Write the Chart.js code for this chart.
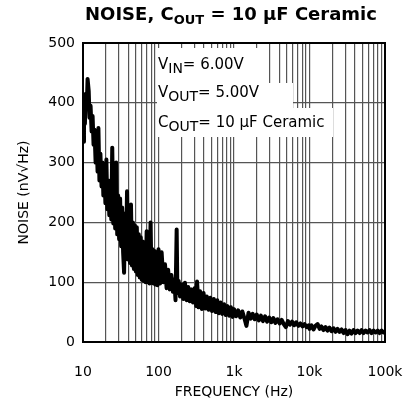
<!DOCTYPE html>
<html>
<head>
<meta charset="utf-8">
<script src="https://cdn.jsdelivr.net/npm/chart.js@4.4.1/dist/chart.umd.min.js"></script>
<style>
  html, body { margin: 0; padding: 0; background: #fff; }
</style>
</head>
<body>
<canvas id="noiseChart" width="409" height="409"></canvas>
<script>
// Frequenz (Hz) und Rauschen (nV/√Hz)
const freqHz = [
  10, 10.3, 10.6, 10.9, 11.2, 11.5, 11.9, 12.2, 12.6, 13,
  13.4, 13.8, 14.2, 14.7, 15.1, 15.6, 16, 16.5, 17, 17.6,
  18.1, 18.6, 19.2, 19.8, 20.4, 21, 21.7, 22.3, 23, 23.7,
  24.4, 25.2, 25.9, 26.7, 27.5, 28.4, 29.2, 30.1, 31, 32,
  33, 34, 35, 36.1, 37.2, 38.3, 39.5, 40.7, 41.9, 43.2,
  44.5, 45.8, 47.2, 48.7, 50.1, 51.6, 53.2, 54.8, 56.5, 58.2,
  60, 61.8, 63.7, 65.6, 67.6, 69.7, 71.8, 74, 76.2, 78.5,
  80.9, 83.4, 85.9, 88.5, 91.2, 94, 96.8,
  100, 105, 110, 116, 122, 128, 134, 141, 148, 155,
  162, 168, 174, 178, 185, 193, 203, 213, 224, 235,
  247, 259, 272, 286, 300, 316, 324, 340, 355, 375,
  395, 415, 436, 460, 485, 510, 540, 570, 600, 630,
  665, 700, 740, 780, 820, 865, 910, 960,
  1000, 1065, 1135, 1210, 1290, 1370, 1460, 1560, 1660, 1770,
  1880, 2000, 2130, 2270, 2420, 2580, 2750, 2930, 3120, 3320,
  3540, 3770, 4020, 4280, 4560, 4860, 5180, 5520, 5880, 6260,
  6670, 7110, 7570, 8070, 8600, 9160, 9760,
  10000, 10630, 11300, 12000, 12800, 13600, 14400, 15300, 16300, 17300,
  18400, 19600, 20800, 22100, 23500, 25000, 26600, 28300, 30000, 31900,
  33900, 36100, 38400, 40800, 43300, 46100, 49000, 52000, 55300, 58800,
  62500, 66400, 70600, 75100, 79800, 84800, 90200, 95900, 100000
];
const noiseNv = [
  335, 400, 365, 415, 390, 440, 420, 375, 395, 352,
  378, 330, 355, 300, 340, 285, 358, 270, 315, 260,
  300, 245, 290, 232, 305, 222, 270, 212, 260, 205,
  325, 198, 260, 190, 300, 180, 245, 172, 240, 160,
  225, 150, 116, 215, 145, 252, 138, 215, 132, 230,
  128, 200, 122, 195, 118, 192, 112, 180, 108, 175,
  104, 168, 102, 165, 100, 185, 100, 158, 98, 200,
  99, 155, 98, 152, 96, 150, 95,
  155, 98, 150, 100, 130, 90, 121, 88, 112, 84,
  105, 70, 188, 82, 102, 76, 96, 72, 99, 70,
  92, 68, 88, 66, 90, 60, 101, 58, 85, 55,
  82, 56, 76, 54, 74, 52, 72, 50, 70, 48,
  66, 47, 63, 45, 60, 44, 58, 42,
  55, 43, 53, 41, 51, 40, 27, 49, 39, 47,
  38, 46, 36, 44, 35, 43, 34, 41, 33, 40,
  32, 38, 31, 37, 30, 25, 35, 29, 34, 28,
  33, 27, 31, 26, 30, 25, 28,
  22, 28, 21, 27, 30, 22, 26, 20, 25, 19,
  24, 18, 23, 17, 22, 17, 21, 15, 20, 13,
  19, 14, 20, 15, 19, 15, 20, 15, 19, 16,
  20, 15, 19, 16, 19, 15, 19, 16, 18
];
const xTickLabels = { 10: '10', 100: '100', 1000: '1k', 10000: '10k', 100000: '100k' };
const yTicks = [0, 100, 200, 300, 400, 500];
const noteRows = [
  ['V', 'IN', '= 6.00V'],
  ['V', 'OUT', '= 5.00V'],
  ['C', 'OUT', '= 10 µF Ceramic']
];

const FONT = 'DejaVu Sans';

// Gitterlinien bei 1..9 je Dekade
const xGrid = [];
for (let e = 1; e <= 5; e++) {
  for (let m = 1; m <= 9; m++) {
    const v = m * Math.pow(10, e);
    if (v <= 100000) xGrid.push(v);
  }
}

function drawSubText(ctx, x, y, parts, size, subSize, weight) {
  // parts: [Haupttext, Index, Rest]
  ctx.font = weight + ' ' + size + 'px "' + FONT + '"';
  ctx.fillText(parts[0], x, y);
  x += ctx.measureText(parts[0]).width;
  ctx.font = weight + ' ' + subSize + 'px "' + FONT + '"';
  ctx.fillText(parts[1], x, y + 4);
  x += ctx.measureText(parts[1]).width;
  ctx.font = weight + ' ' + size + 'px "' + FONT + '"';
  ctx.fillText(parts[2], x, y);
}

function subTextWidth(ctx, parts, size, subSize, weight) {
  ctx.font = weight + ' ' + size + 'px "' + FONT + '"';
  const w = ctx.measureText(parts[0]).width + ctx.measureText(parts[2]).width;
  ctx.font = weight + ' ' + subSize + 'px "' + FONT + '"';
  return w + ctx.measureText(parts[1]).width;
}

const frameNotes = {
  id: 'frameNotes',
  afterDatasetsDraw(chart) {
    const { ctx, chartArea: a } = chart;
    ctx.save();
    // Textkasten mit weissem Hintergrund je Zeile
    const rowTops = [5, 40, 65];
    const rowBottoms = [40, 65, 94];
    const rowRights = [268, 293, 333];
    const baselines = [26, 54, 84];
    ctx.fillStyle = '#fff';
    noteRows.forEach((row, i) => {
      ctx.fillRect(157, a.top + rowTops[i], rowRights[i] - 157, rowBottoms[i] - rowTops[i]);
    });
    ctx.fillStyle = '#000';
    ctx.textBaseline = 'alphabetic';
    ctx.textAlign = 'left';
    noteRows.forEach((row, i) => {
      drawSubText(ctx, 158, a.top + baselines[i], row, 15, 14, 'normal');
    });
    // Rahmen
    ctx.lineWidth = 2;
    ctx.strokeStyle = '#000';
    ctx.strokeRect(a.left, a.top, a.right - a.left, a.bottom - a.top);
    ctx.restore();
  },
  afterDraw(chart) {
    const { ctx, chartArea: a } = chart;
    ctx.save();
    ctx.fillStyle = '#000';
    ctx.textBaseline = 'alphabetic';
    ctx.textAlign = 'left';
    const parts = ['NOISE, C', 'OUT', ' = 10 µF Ceramic'];
    const w = subTextWidth(ctx, parts, 18, 13, 'bold');
    drawSubText(ctx, (a.left + a.right) / 2 - 3 - w / 2, 20, parts, 18, 13, 'bold');
    ctx.restore();
  }
};

new Chart(document.getElementById('noiseChart'), {
  type: 'line',
  data: {
    datasets: [{
      data: freqHz.map((f, i) => ({ x: f, y: noiseNv[i] })),
      borderColor: '#000',
      borderWidth: 4,
      borderJoinStyle: 'round',
      pointRadius: 0,
      tension: 0,
      fill: false
    }]
  },
  options: {
    responsive: false,
    animation: false,
    layout: { padding: { top: 43, right: 24, left: 0, bottom: 0 } },
    plugins: {
      legend: { display: false },
      tooltip: { enabled: false },
      title: { display: false }
    },
    scales: {
      x: {
        type: 'logarithmic',
        min: 10,
        max: 100000,
        afterBuildTicks: s => { s.ticks = xGrid.map(v => ({ value: v })); },
        afterFit: s => {
          s.height = 67;
          s.paddingLeft = 0;
          s.paddingRight = 0;
        },
        ticks: {
          autoSkip: false,
          maxRotation: 0,
          padding: 22,
          color: '#000',
          font: { family: FONT, size: 14 },
          callback: v => xTickLabels[v] || ''
        },
        grid: { color: '#555', lineWidth: 1.2, drawTicks: false },
        border: { display: false },
        title: {
          display: true,
          text: 'FREQUENCY (Hz)',
          color: '#000',
          font: { family: FONT, size: 14 },
          padding: { top: 0, bottom: 8 }
        }
      },
      y: {
        min: 0,
        max: 500,
        afterBuildTicks: s => { s.ticks = yTicks.map(v => ({ value: v })); },
        afterFit: s => { s.width = 83; },
        ticks: {
          padding: 8,
          color: '#000',
          font: { family: FONT, size: 14 }
        },
        grid: { color: '#555', lineWidth: 1.2, drawTicks: false },
        border: { display: false },
        title: {
          display: true,
          text: 'NOISE (nV√Hz)',
          color: '#000',
          font: { family: FONT, size: 14 },
          padding: { top: 16, bottom: 0 }
        }
      }
    }
  },
  plugins: [frameNotes]
});
</script>
</body>
</html>
